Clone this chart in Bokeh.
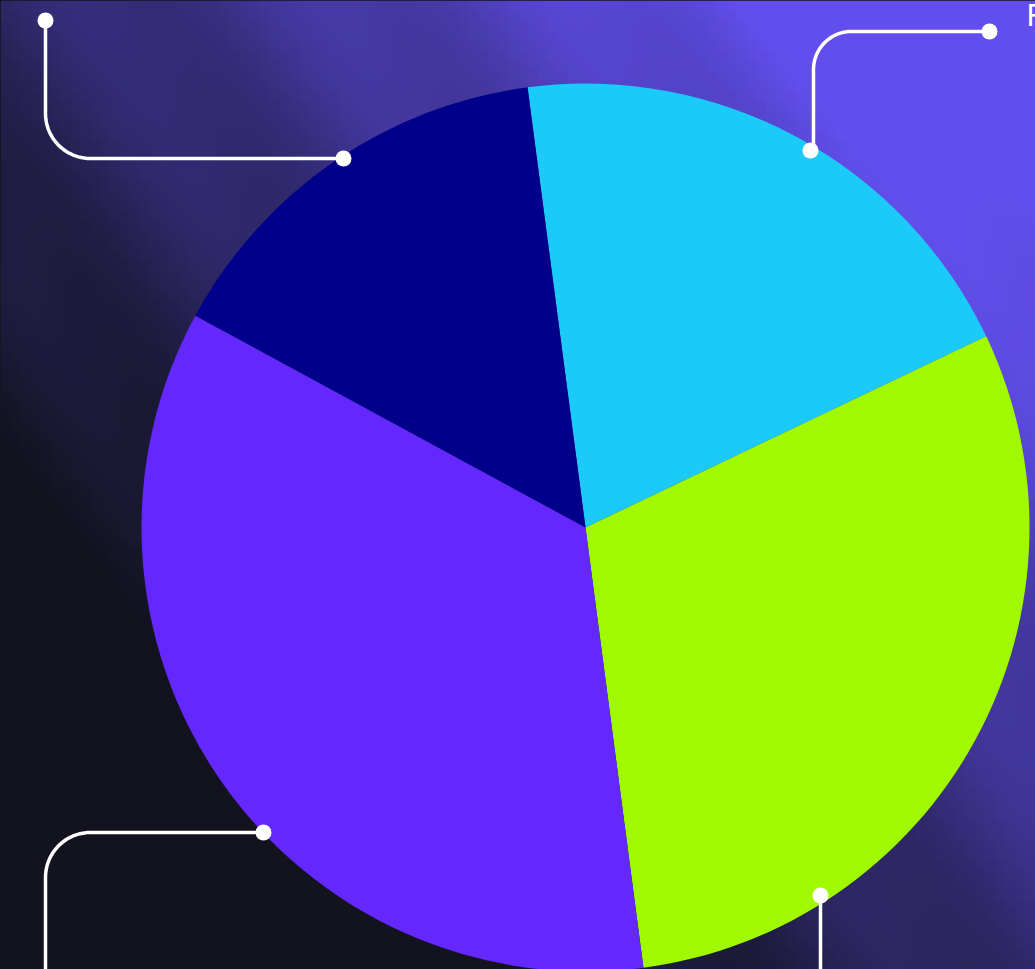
import numpy as np
from bokeh.plotting import figure
from bokeh.models import Range1d
from bokeh.core.properties import value
from bokeh.embed import file_html
from bokeh.resources import INLINE

# ---- data ----
categories = ["A", "B", "C", "D"]
shares = [20, 30, 35, 15]
colors = ["#1CCAF9", "#A0F900", "#6428FF", "#00008B"]
start_offset_deg = -7.5  # clockwise from 12 o'clock
label_text = "Frontend"

W, H = 1035, 969
p = figure(width=W, height=H, output_backend="svg", toolbar_location=None,
           x_range=Range1d(0, W), y_range=Range1d(0, H), min_border=0)
p.axis.visible = False
p.grid.visible = False
p.outline_line_color = None
p.background_fill_color = "#14141f"
p.border_fill_color = "#14141f"

# ---- background gradient (pixelated) ----
bw, bh = 104, 97
xs = (np.arange(bw) + 0.5) / bw
vs = 1 - (np.arange(bh) + 0.5) / bh  # row 0 is at the bottom: v = 0 top, 1 bottom
U, V = np.meshgrid(xs, vs)
s = U * 0.85 + (1 - V) * 0.8 - 0.42
s += 0.05 * np.sin((U * 9 - V * 5) * 3.0)
s = np.clip(s, 0, 1) ** 1.1
dark = np.array([0x12, 0x13, 0x1f], dtype=float)
light = np.array([0x62, 0x4e, 0xec], dtype=float)
rgb = dark[None, None, :] + (light - dark)[None, None, :] * s[:, :, None]
img = np.zeros((bh, bw), dtype=np.uint32)
view = img.view(dtype=np.uint8).reshape((bh, bw, 4))
view[:, :, 0] = rgb[:, :, 0].astype(np.uint8)
view[:, :, 1] = rgb[:, :, 1].astype(np.uint8)
view[:, :, 2] = rgb[:, :, 2].astype(np.uint8)
view[:, :, 3] = 255
p.image_rgba(image=[img], x=0, y=0, dw=W, dh=H)

# ---- pie ----
cx, cy, R = 585, H - 527, 444
total = float(sum(shares))
cum = np.cumsum([0] + shares) / total * 360.0 + start_offset_deg
theta_start = cum[:-1]
theta_end = cum[1:]
start_angles = np.radians(90 - theta_end)
end_angles = np.radians(90 - theta_start)
p.wedge(x=cx, y=cy, radius=R, radius_units="data",
        start_angle=list(start_angles), end_angle=list(end_angles),
        fill_color=colors, line_color=None)


# ---- callout lines ----
def elbow(p0, corner, p1, r, n=24):
    """Polyline from p0 to p1 via a rounded corner (screen coordinates)."""
    p0, c, p1 = np.array(p0, float), np.array(corner, float), np.array(p1, float)
    d0 = (p0 - c) / np.linalg.norm(p0 - c)
    d1 = (p1 - c) / np.linalg.norm(p1 - c)
    a = c + d0 * r
    b = c + d1 * r
    ctr = c + d0 * r + d1 * r
    a0 = np.arctan2(*(a - ctr)[::-1])
    a1 = np.arctan2(*(b - ctr)[::-1])
    da = (a1 - a0 + np.pi) % (2 * np.pi) - np.pi
    t = np.linspace(0, 1, n)
    arc = ctr[None, :] + r * np.stack([np.cos(a0 + da * t), np.sin(a0 + da * t)], axis=1)
    pts = np.vstack([p0, arc, p1])
    return pts[:, 0], H - pts[:, 1]


paths = [
    elbow((45, 20), (45, 158), (343, 158), 45),
    elbow((813, 150), (813, 31), (989, 31), 38),
    elbow((263, 832), (45, 832), (45, 990), 45),
]
for x, y in paths:
    p.line(x, y, line_color="white", line_width=3.5)
p.line([820, 820], [H - 895, H - 990], line_color="white", line_width=3.5)

dots_x = [45, 343, 810, 989, 263, 820]
dots_y = [H - 20, H - 158, H - 150, H - 31, H - 832, H - 895]
p.scatter(dots_x, dots_y, size=16, fill_color="white", line_color=None)

p.text(x=[1026], y=[H - 14], text=[label_text], text_color="white",
       text_font=value("Inter"), text_font_size="30px",
       text_baseline="middle", text_align="left")

html = file_html(p, INLINE)
html = html.replace("<head>", "<head><style>html,body{margin:0;padding:0;background:#14141f;overflow:hidden}</style>", 1)
open("out.html", "w").write(html)
